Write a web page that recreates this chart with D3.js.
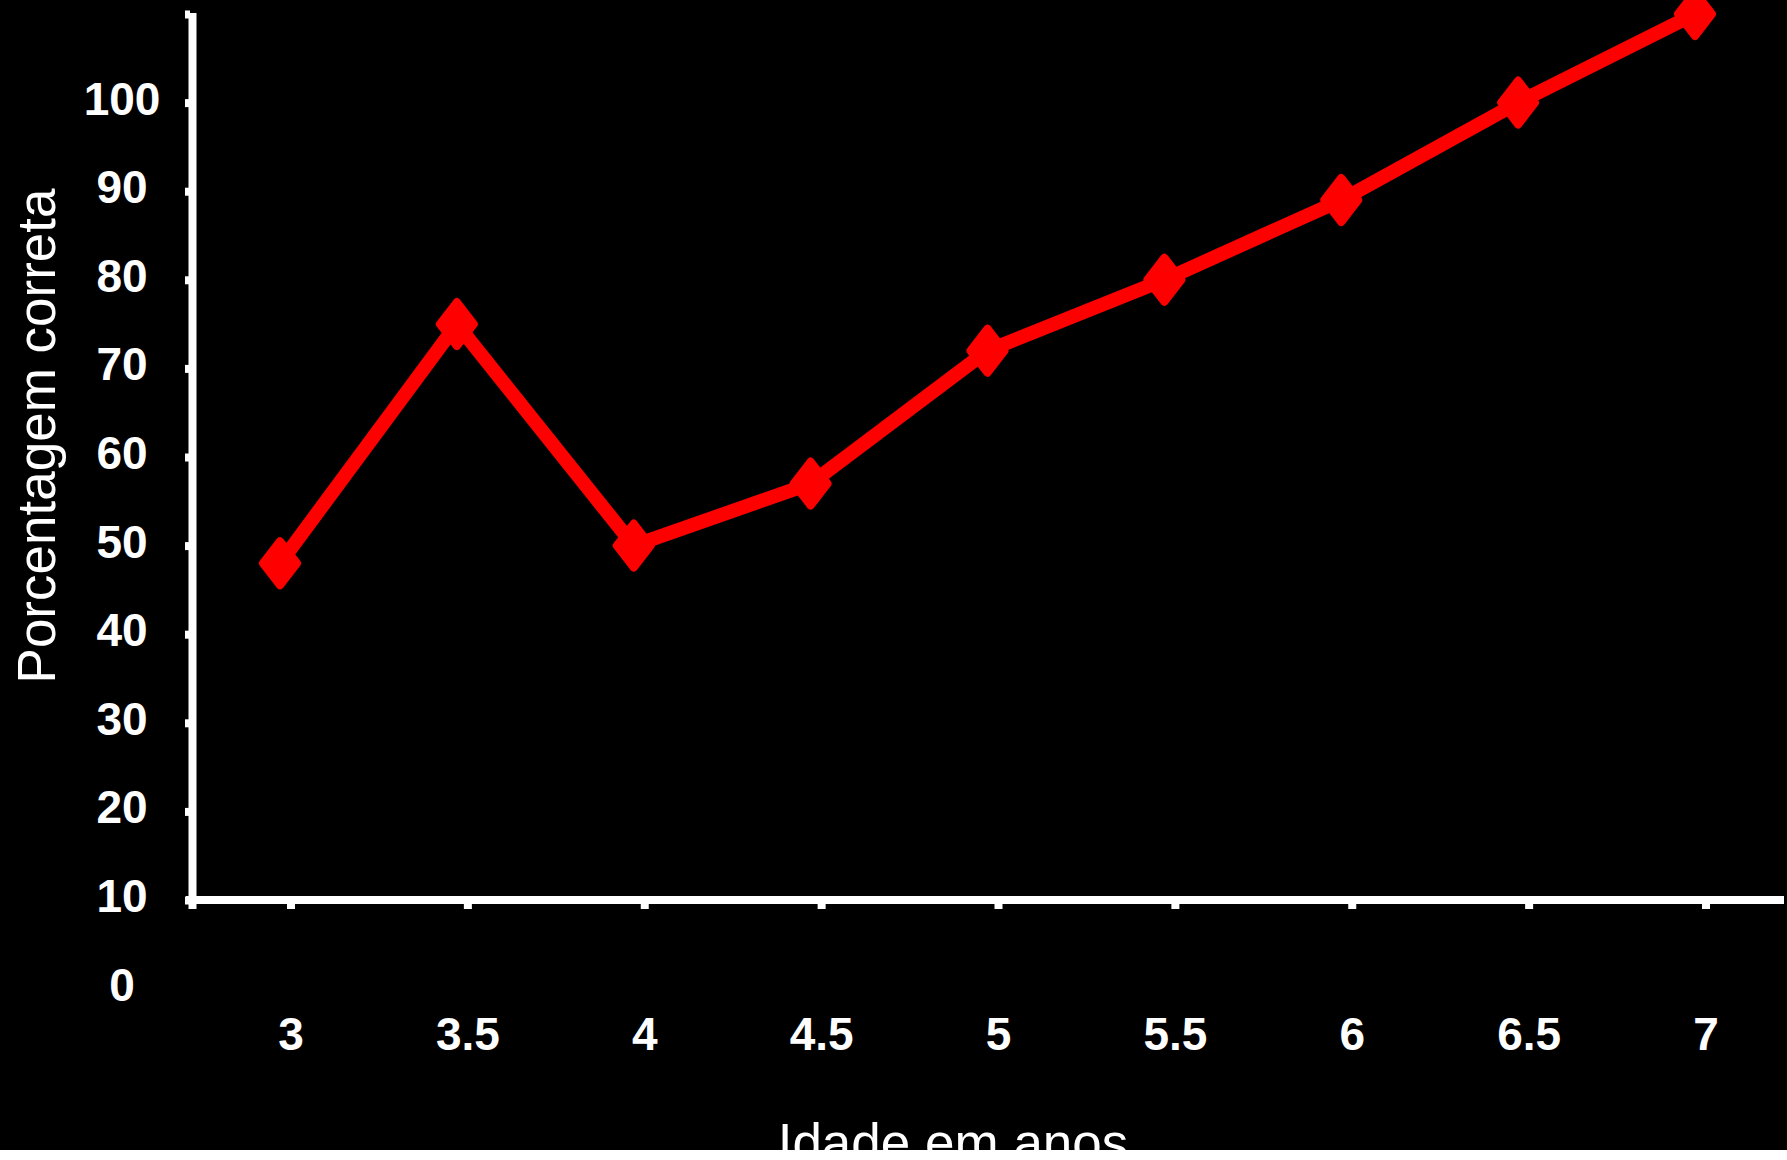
<!DOCTYPE html>
<html>
<head>
<meta charset="utf-8">
<script src="https://cdn.jsdelivr.net/npm/d3@7"></script>
<style>
  html, body { margin: 0; padding: 0; background: #ffffff; }
  svg { display: block; }
</style>
</head>
<body>
<script>
// ---- data ----
const ages = [3, 3.5, 4, 4.5, 5, 5.5, 6, 6.5, 7];
const percentCorrect = [48, 75, 50, 57, 72, 80, 89, 100, 110];
const xTickLabels = ["3", "3.5", "4", "4.5", "5", "5.5", "6", "6.5", "7"];
const yTickLabels = [0, 10, 20, 30, 40, 50, 60, 70, 80, 90, 100];
const yTickMarks = [10, 20, 30, 40, 50, 60, 70, 80, 90, 100, 110];
const xTitle = "Idade em anos";
const yTitle = "Porcentagem correta";

const W = 1787, H = 1160;
const svg = d3.select("body").append("svg").attr("width", W).attr("height", H);

// background
svg.append("rect").attr("x", 0).attr("y", 0).attr("width", W).attr("height", 1150).attr("fill", "#000");

const x = d3.scaleLinear().domain([3, 7]).range([280, 1695]);
const y = d3.scaleLinear().domain([10, 110]).range([900, 14]);

const font = "'Liberation Sans', Arial, Helvetica, sans-serif";
const axisX = 192.5;
const axisY = 900;
const tickShift = 11;

// axes lines
svg.append("line").attr("x1", axisX).attr("x2", axisX).attr("y1", y(110) - 1).attr("y2", 909)
  .attr("stroke", "#fff").attr("stroke-width", 8);
svg.append("line").attr("x1", 186).attr("x2", 1784).attr("y1", axisY).attr("y2", axisY)
  .attr("stroke", "#fff").attr("stroke-width", 8);

// y tick marks
svg.append("g").selectAll("rect").data(yTickMarks).join("rect")
  .attr("x", 185).attr("width", 5)
  .attr("y", d => y(d) - 3.5).attr("height", 8)
  .attr("fill", "#fff");

// y tick labels
svg.append("g").selectAll("text").data(yTickLabels).join("text")
  .attr("x", 122).attr("y", d => y(d) + 12)
  .attr("text-anchor", "middle")
  .attr("fill", "#fff")
  .style("font-family", font).style("font-weight", "bold").style("font-size", "46px")
  .text(d => d);

// x tick marks
svg.append("g").selectAll("rect").data(ages).join("rect")
  .attr("x", d => x(d) + tickShift - 4).attr("width", 8)
  .attr("y", 903).attr("height", 6)
  .attr("fill", "#fff");

// x tick labels
svg.append("g").selectAll("text").data(ages).join("text")
  .attr("x", d => x(d) + tickShift).attr("y", 1050)
  .attr("text-anchor", "middle")
  .attr("fill", "#fff")
  .style("font-family", font).style("font-weight", "bold").style("font-size", "46px")
  .text((d, i) => xTickLabels[i]);

// axis titles
svg.append("text")
  .attr("transform", "translate(55,436) rotate(-90)")
  .attr("text-anchor", "middle").attr("fill", "#fff")
  .style("font-family", font).style("font-size", "53px")
  .text(yTitle);

svg.append("text")
  .attr("x", 953).attr("y", 1161)
  .attr("text-anchor", "middle").attr("fill", "#fff")
  .style("font-family", font).style("font-size", "53px")
  .text(xTitle);

// series
const pts = ages.map((a, i) => [a, percentCorrect[i]]);
svg.append("path").datum(pts)
  .attr("d", d3.line().x(d => x(d[0])).y(d => y(d[1])))
  .attr("fill", "none").attr("stroke", "#ff0000")
  .attr("stroke-width", 14).attr("stroke-linejoin", "round");

svg.append("g").selectAll("path").data(pts).join("path")
  .attr("transform", d => `translate(${x(d[0])},${y(d[1])})`)
  .attr("d", "M0,-22L17,0L0,22L-17,0Z")
  .attr("fill", "#ff0000").attr("stroke", "#ff0000")
  .attr("stroke-width", 8).attr("stroke-linejoin", "round");

// white strip at bottom (clips x title)
svg.append("rect").attr("x", 0).attr("y", 1150).attr("width", W).attr("height", 10).attr("fill", "#fff");
</script>
</body>
</html>
